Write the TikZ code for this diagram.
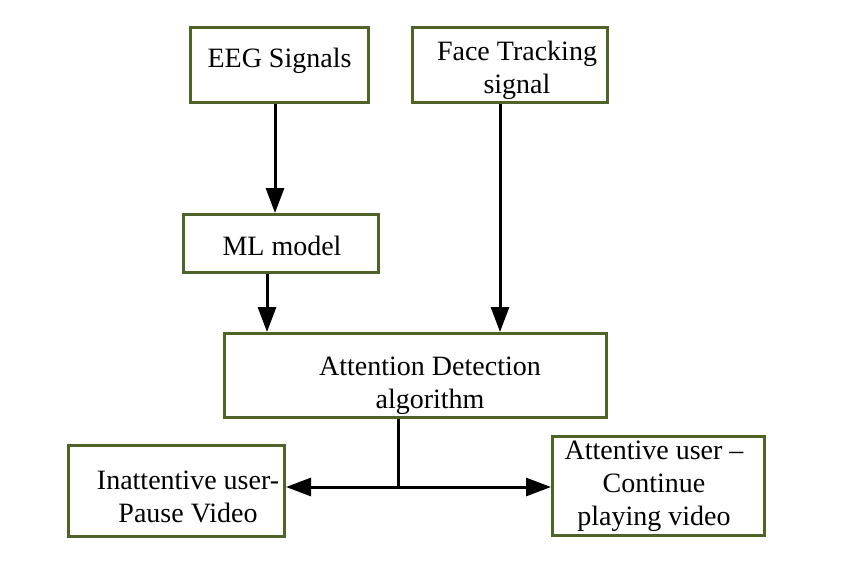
\documentclass[tikz,border=0pt]{standalone}
\usepackage{fontspec}
\setmainfont{Liberation Serif}
\usetikzlibrary{arrows.meta}
\definecolor{boxgreen}{HTML}{4F6228}
\tikzset{
  box/.style={draw=boxgreen, line width=3pt, fill=white, inner sep=0pt},
  txt/.style={align=center, inner sep=0pt, font=\fontsize{28}{33}\selectfont},
  arr/.style={line width=3pt, -{Triangle[length=25pt,width=18pt]}},
  ln/.style={line width=3pt}
}
\begin{document}
\begin{tikzpicture}[x=1pt,y=-1pt]
\useasboundingbox (0,0) rectangle (842,568);
% boxes
\node[box, minimum width=178pt, minimum height=75pt] (eeg) at (279.5,65) {};
\node[box, minimum width=195pt, minimum height=75pt] (face) at (510,65) {};
\node[box, minimum width=195pt, minimum height=58pt] (ml) at (281,243.5) {};
\node[box, minimum width=382pt, minimum height=84pt] (att) at (415.5,375.5) {};
\node[box, minimum width=216pt, minimum height=91pt] (inatt) at (176.5,491) {};
\node[box, minimum width=212pt, minimum height=99pt] (attv) at (658.5,486) {};
% texts
\node[txt] (eegt) at (279.5,61) {EEG Signals};
\node[txt] (facet) at (517,70) {Face Tracking\\signal};
\node[txt] (mlt) at (282,246) {ML model};
\node[txt] (attt) at (430,386) {Attention Detection\\algorithm};
\node[txt] (inattt) at (188,496.5) {Inattentive user-\\Pause Video};
\node[txt] (attvt) at (654,486) {Attentive user –\\Continue\\playing video};
% connectors
\draw[arr] ([xshift=-4.5pt]eeg.south) -- ([xshift=-4.5pt]eeg.south |- ml.north);
\draw[arr] ([xshift=-14pt]ml.south) -- ([xshift=-14pt]ml.south |- att.north);
\draw[arr] ([xshift=-10pt]face.south) -- ([xshift=-10pt]face.south |- att.north);
\coordinate (j) at (398,487);
\draw[ln] (att.south -| j) -- (j);
\draw[arr] (j) -- (inatt.east |- j);
\draw[arr] (j) -- (attv.west |- j);
\end{tikzpicture}
\end{document}
